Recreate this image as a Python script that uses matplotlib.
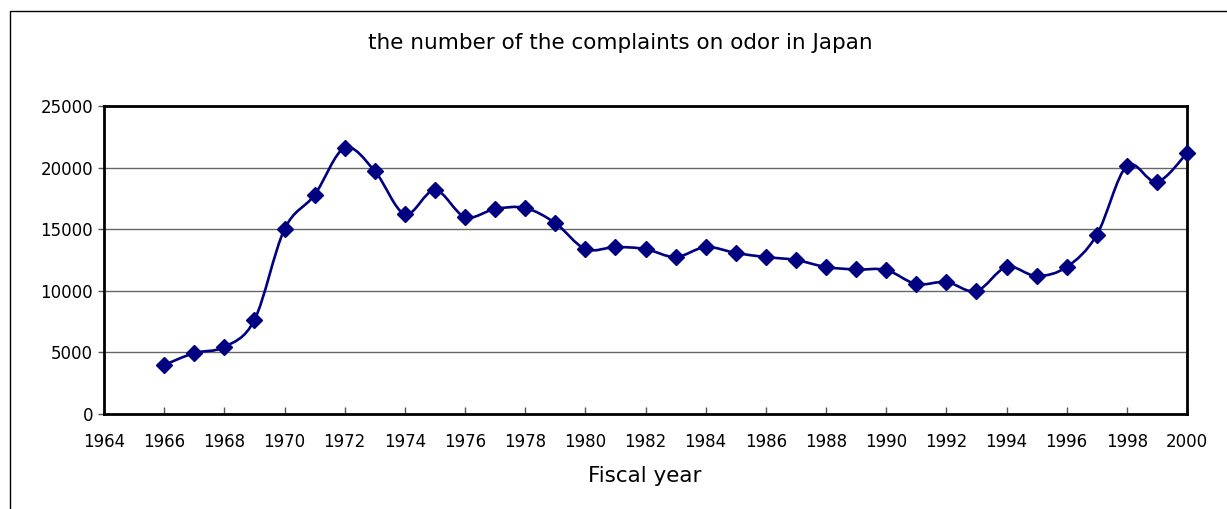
import matplotlib
matplotlib.use("Agg")
import matplotlib.pyplot as plt
from matplotlib.path import Path
from matplotlib.patches import PathPatch, Rectangle
import numpy as np

years = [1966, 1967, 1968, 1969, 1970, 1971, 1972, 1973, 1974, 1975, 1976, 1977,
         1978, 1979, 1980, 1981, 1982, 1983, 1984, 1985, 1986, 1987, 1988, 1989,
         1990, 1991, 1992, 1993, 1994, 1995, 1996, 1997, 1998, 1999, 2000]
complaints = [3980, 4950, 5440, 7630, 15000, 17780, 21590, 19720, 16230, 18180, 15990, 16640,
              16720, 15500, 13390, 13550, 13390, 12740, 13550, 13070, 12740, 12500, 11930, 11730,
              11690, 10550, 10710, 9980, 11930, 11200, 11930, 14530, 20130, 18830, 21180]
xticks = list(range(1964, 2001, 2))
yticks = [0, 5000, 10000, 15000, 20000, 25000]

title = "the number of the complaints on odor in Japan"
xlabel = "Fiscal year"

plt.rcParams['font.family'] = ['DejaVu Sans']

W, H = 1227, 509
fig = plt.figure(figsize=(W / 100, H / 100), dpi=100)

# chart area border (left and top visible)
fig.add_artist(Rectangle((10 / W, -0.1), 1.5, (1 - 11 / H) + 0.1, transform=fig.transFigure,
                         fill=False, edgecolor='black', linewidth=1.0))

left, right, top, bottom = 104, 1187, 106, 414
ax = fig.add_axes([left / W, 1 - bottom / H, (right - left) / W, (bottom - top) / H])
ax.set_xlim(1964, 2000)
ax.set_ylim(0, 25000)

# smoothed line (Catmull-Rom style Bezier through the data points)
x = np.array(years, dtype=float)
y = np.array(complaints, dtype=float)
n = len(x)
verts = [(x[0], y[0])]
codes = [Path.MOVETO]
for i in range(n - 1):
    p0 = (x[i - 1], y[i - 1]) if i > 0 else (x[i], y[i])
    p1 = (x[i], y[i])
    p2 = (x[i + 1], y[i + 1])
    p3 = (x[i + 2], y[i + 2]) if i + 2 < n else (x[i + 1], y[i + 1])
    c1 = (p1[0] + (p2[0] - p0[0]) / 6, p1[1] + (p2[1] - p0[1]) / 6)
    c2 = (p2[0] - (p3[0] - p1[0]) / 6, p2[1] - (p3[1] - p1[1]) / 6)
    verts += [c1, c2, p2]
    codes += [Path.CURVE4] * 3
ax.add_patch(PathPatch(Path(verts, codes), facecolor='none', edgecolor='#000080',
                       linewidth=1.9, zorder=3, clip_on=False))
ax.plot(years, complaints, linestyle='none', marker='D', markersize=8.5,
        color='#000080', zorder=4, clip_on=False)

ax.set_xticks(xticks)
ax.set_yticks(yticks)
ax.set_xticklabels([str(t) for t in xticks], fontsize=12)
ax.set_yticklabels([str(t) for t in yticks], fontsize=12)
ax.tick_params(axis='x', direction='in', length=5, width=1, pad=14, color='#555555')
ax.tick_params(axis='y', direction='out', length=4, width=1, pad=4, color='#555555')
ax.grid(axis='y', color='#666666', linewidth=1.0)
ax.set_axisbelow(True)
for s in ax.spines.values():
    s.set_linewidth(2.0)
    s.set_color('black')

fig.text(620 / W, 1 - 43 / H, title, ha='center', va='center', fontsize=15.5)
fig.text(645 / W, 1 - 476 / H, xlabel, ha='center', va='center', fontsize=15.5)

fig.savefig("out.png", dpi=100)
